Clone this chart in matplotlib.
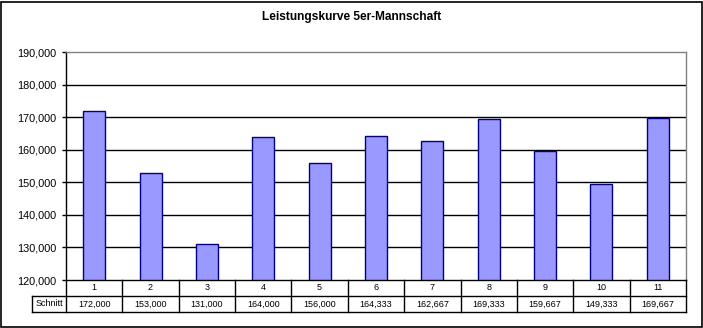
import matplotlib
matplotlib.use("Agg")
import matplotlib.pyplot as plt
from matplotlib.patches import Rectangle
from matplotlib.lines import Line2D

categories = ["1", "2", "3", "4", "5", "6", "7", "8", "9", "10", "11"]
values = [172000, 153000, 131000, 164000, 156000, 164333, 162667, 169333, 159667, 149333, 169667]
row_label = "Schnitt"
title = "Leistungskurve 5er-Mannschaft"
yticks = [120000, 130000, 140000, 150000, 160000, 170000, 180000, 190000]

plt.rcParams['font.family'] = ['Liberation Sans', 'DejaVu Sans']

W, H = 703, 328
fig = plt.figure(figsize=(W / 100, H / 100), dpi=100)
fig.patch.set_facecolor('white')

L, R, T, B = 66, 686, 52, 280
ax = fig.add_axes([L / W, 1 - B / H, (R - L) / W, (B - T) / H])
n = len(categories)
x = list(range(n))
ax.set_xlim(-0.5, n - 0.5)
ax.set_ylim(120000, 190000)
ax.set_yticks(yticks)
ax.set_yticklabels([f"{v:,.0f}" for v in yticks], fontsize=7.8)
ax.tick_params(axis='y', length=3, width=1, pad=4, color='black')
ax.set_xticks([])
for v in yticks[1:-1]:
    ax.axhline(v, color='black', lw=1, zorder=1)
ax.bar(x, values, width=0.39, color='#9999FF', edgecolor='#000080', lw=1, zorder=2)
ax.spines['top'].set_color('#808080')
ax.spines['right'].set_color('#808080')
ax.spines['left'].set_color('black')
ax.spines['bottom'].set_color('black')
for s in ax.spines.values():
    s.set_linewidth(1)

fig.text(0.5, 1 - 17 / H, title, ha='center', va='center', fontsize=8.6, fontweight='bold')

# table below the axis
def fy(py):
    return 1 - py / H
def fx(px):
    return px / W

r1, r2, r3 = 280, 296, 312
colw = (R - L) / n
line_kw = dict(color='black', lw=1, transform=fig.transFigure)
fig.add_artist(Line2D([fx(L), fx(R)], [fy(r2), fy(r2)], **line_kw))
fig.add_artist(Line2D([fx(32), fx(R)], [fy(r3), fy(r3)], **line_kw))
fig.add_artist(Line2D([fx(32), fx(L)], [fy(r2), fy(r2)], **line_kw))
fig.add_artist(Line2D([fx(32), fx(32)], [fy(r2), fy(r3)], **line_kw))
for i in range(n + 1):
    xp = L + i * colw
    fig.add_artist(Line2D([fx(xp), fx(xp)], [fy(r1), fy(r3)], **line_kw))
for i, (c, v) in enumerate(zip(categories, values)):
    xc = L + (i + 0.5) * colw
    fig.text(fx(xc), fy((r1 + r2) / 2), c, ha='center', va='center', fontsize=6.5)
    fig.text(fx(xc), fy((r2 + r3) / 2), f"{v:,.0f}", ha='center', va='center', fontsize=6.5)
fig.text(fx((32 + L) / 2), fy((r2 + r3) / 2), row_label, ha='center', va='center', fontsize=6.5)

fig.add_artist(Rectangle((0.5 / W, 1.5 / H), (W - 2) / W, (H - 3) / H, fill=False,
                         edgecolor='black', lw=1.2, transform=fig.transFigure))

fig.savefig("out.png", dpi=100)
